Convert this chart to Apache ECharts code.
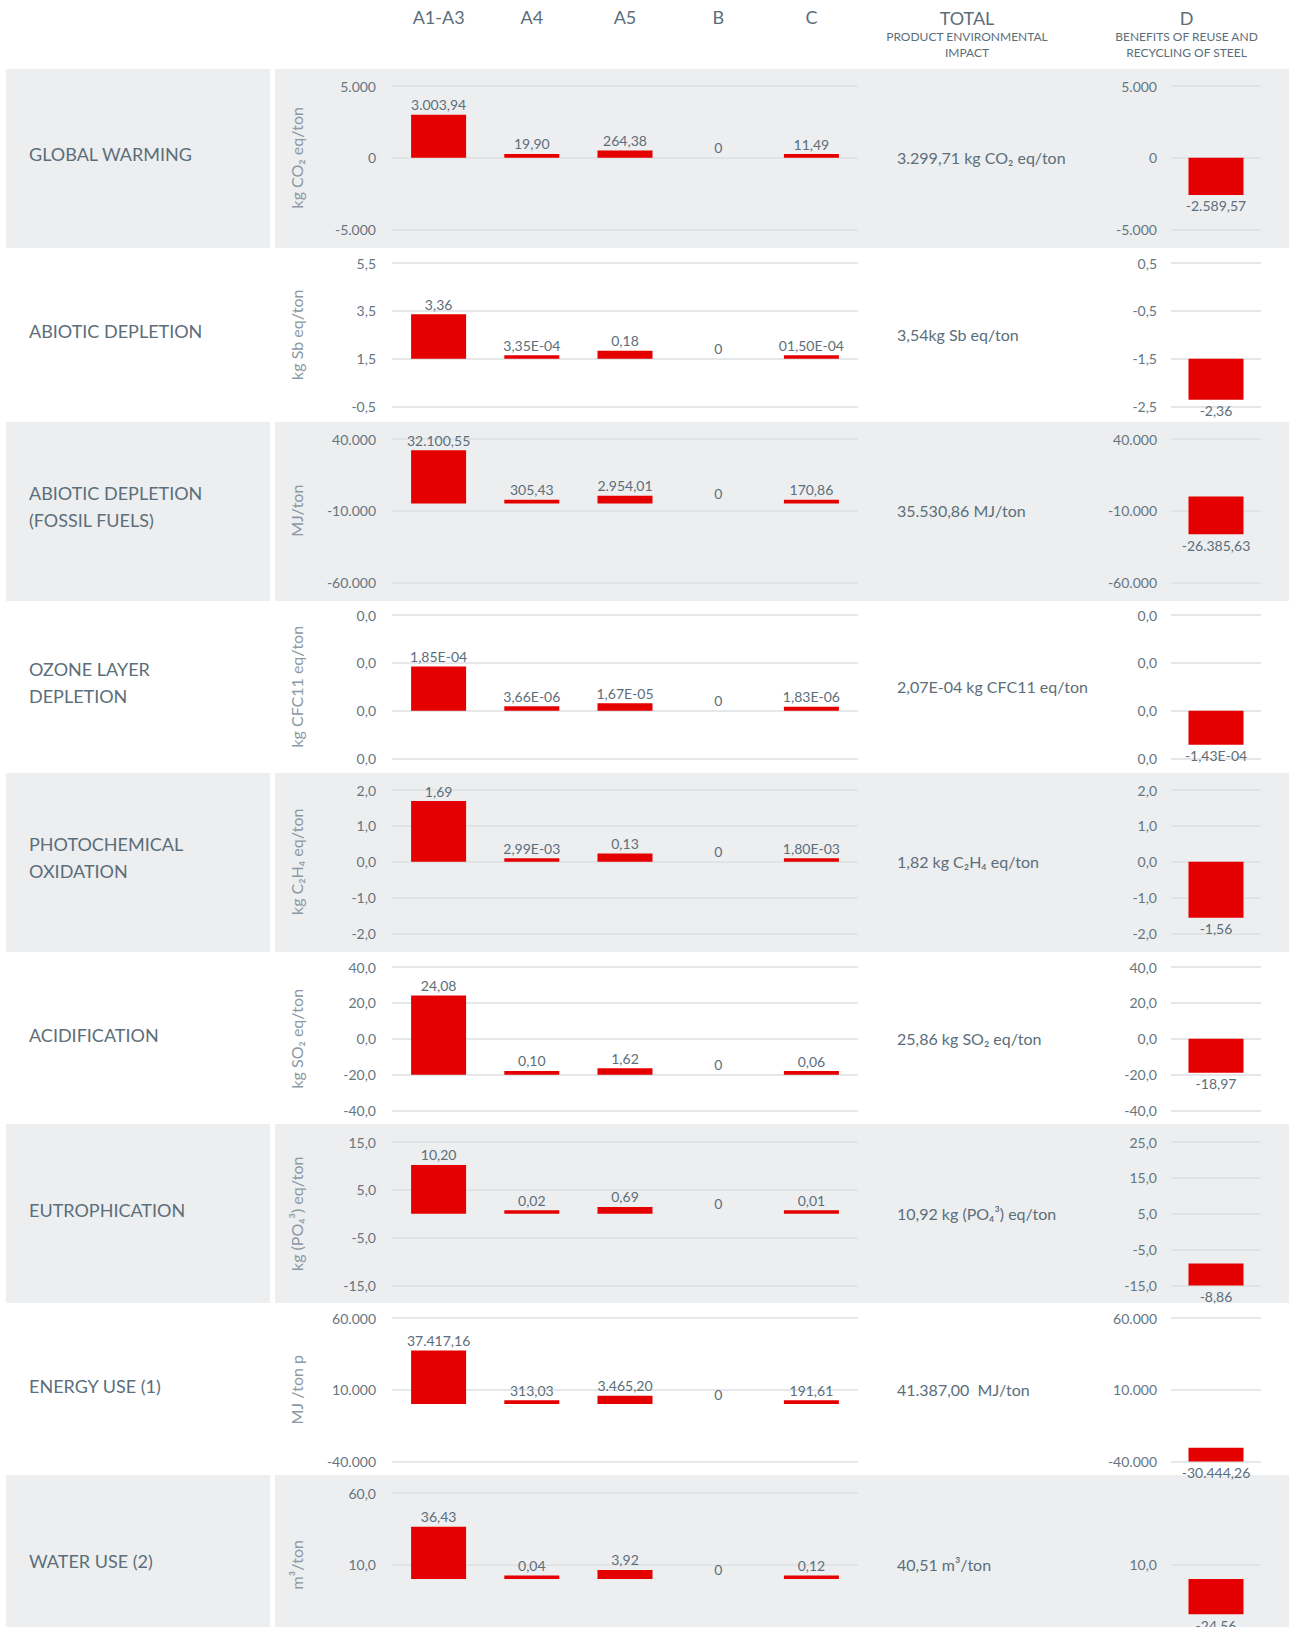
<!DOCTYPE html>
<html><head><meta charset="utf-8">
<script src="https://cdn.jsdelivr.net/npm/echarts@6/dist/echarts.min.js"></script>
<style>html,body{margin:0;padding:0;background:#fff}#c{width:1289px;height:1627px}</style>
</head><body><div id="c"></div>
<script>
// ---------- DATA ----------
const categories = ['A1-A3', 'A4', 'A5', 'B', 'C'];
const rowNames = ['GLOBAL WARMING', 'ABIOTIC DEPLETION', 'ABIOTIC DEPLETION\n(FOSSIL FUELS)', 'OZONE LAYER\nDEPLETION',
  'PHOTOCHEMICAL\nOXIDATION', 'ACIDIFICATION', 'EUTROPHICATION', 'ENERGY USE (1)', 'WATER USE (2)'];
const units = ['kg CO₂ eq/ton', 'kg Sb eq/ton', 'MJ/ton', 'kg CFC11 eq/ton', 'kg C₂H₄ eq/ton', 'kg SO₂ eq/ton',
  'kg (PO₄³) eq/ton', 'MJ /ton p', 'm³/ton'];
const totals = ['3.299,71 kg CO₂ eq/ton', '3,54kg Sb eq/ton', '35.530,86 MJ/ton', '2,07E-04 kg CFC11 eq/ton',
  '1,82 kg C₂H₄ eq/ton', '25,86 kg SO₂ eq/ton', '10,92 kg (PO₄³) eq/ton', '41.387,00  MJ/ton', '40,51 m³/ton'];

const valA1A3 = [3003.94, 3.36, 32100.55, 1.85e-4, 1.69, 24.08, 10.20, 37417.16, 36.43];
const valA4   = [19.90, 3.35e-4, 305.43, 3.66e-6, 2.99e-3, 0.10, 0.02, 313.03, 0.04];
const valA5   = [264.38, 0.18, 2954.01, 1.67e-5, 0.13, 1.62, 0.69, 3465.20, 3.92];
const valB    = [0, 0, 0, 0, 0, 0, 0, 0, 0];
const valC    = [11.49, 1.50e-4, 170.86, 1.83e-6, 1.80e-3, 0.06, 0.01, 191.61, 0.12];
const valD    = [-2589.57, -2.36, -26385.63, -1.43e-4, -1.56, -18.97, -8.86, -30444.26, -24.56];

// value labels as printed
const lblA1A3 = ['3.003,94', '3,36', '32.100,55', '1,85E-04', '1,69', '24,08', '10,20', '37.417,16', '36,43'];
const lblA4   = ['19,90', '3,35E-04', '305,43', '3,66E-06', '2,99E-03', '0,10', '0,02', '313,03', '0,04'];
const lblA5   = ['264,38', '0,18', '2.954,01', '1,67E-05', '0,13', '1,62', '0,69', '3.465,20', '3,92'];
const lblB    = ['0', '0', '0', '0', '0', '0', '0', '0', '0'];
const lblC    = ['11,49', '01,50E-04', '170,86', '1,83E-06', '1,80E-03', '0,06', '0,01', '191,61', '0,12'];
const lblD    = ['-2.589,57', '-2,36', '-26.385,63', '-1,43E-04', '-1,56', '-18,97', '-8,86', '-30.444,26', '-24,56'];

// axis ticks (top -> bottom)
const mainTicks = [
  [5000, 0, -5000], [5.5, 3.5, 1.5, -0.5], [40000, -10000, -60000], [4e-4, 2e-4, 0, -2e-4],
  [2, 1, 0, -1, -2], [40, 20, 0, -20, -40], [15, 5, -5, -15], [60000, 10000, -40000], [60, 10, -40]
];
const dTicks = [
  [5000, 0, -5000], [0.5, -0.5, -1.5, -2.5], [40000, -10000, -60000], [4e-4, 2e-4, 0, -2e-4],
  [2, 1, 0, -1, -2], [40, 20, 0, -20, -40], [25, 15, 5, -5, -15], [60000, 10000, -40000], [10, -40]
];
const tickDecimals = [0, 1, 0, 1, 1, 1, 1, 0, 1];
// value where the category axis crosses (bars start there)
const mainCross = [0, 1.5, -5000, 0, 0, -20, 0, 0, 0];
const dCross    = [0, -1.5, 0, 0, 0, 0, -15, -40000, 0];

// ---------- LAYOUT / STYLE ----------
const RED = '#e40000', TXT = '#5b6e7a', TICK = '#66757f', NAMEC = '#8b99a3', GRIDC = '#dcdfe2', BAND = '#edeef0';
const FONT = 'Lato';
const gridTop = [86, 263, 439, 615, 790, 967, 1142, 1318, 1493];
const GRID_H = 143.5;
const dGridSpan = [1, 1, 1, 1, 1, 1, 1, 1, 0.5];
const cropped = [false, false, false, false, false, false, false, false, true]; // last row runs past the page edge
const MAIN_LEFT = 392, MAIN_W = 466, D_LEFT = 1171, D_W = 90;
const BAR_W = 55, MIN_H = 3.5, STUB_FRAC = 0.05;
const bands = [[69, 248], [422, 601], [773, 952], [1124, 1303], [1475, 1640]];

function fmtNum(v, dec) {
  const s = Math.abs(v).toFixed(dec);
  const neg = v < 0 && parseFloat(s) !== 0;
  let parts = s.split('.');
  let ip = parts[0].replace(/\B(?=(\d{3})+(?!\d))/g, '.');
  return (neg ? '-' : '') + ip + (parts[1] ? ',' + parts[1] : '');
}

function makeY(gi, ticks, dec, name, hideMin) {
  const y = {
    gridIndex: gi, type: 'value', min: ticks[ticks.length - 1], max: ticks[0], interval: ticks[0] - ticks[1],
    axisLine: { show: false }, axisTick: { show: false },
    axisLabel: { margin: name ? 16 : 14, color: TICK, fontSize: 14, fontFamily: FONT, showMinLabel: !hideMin,
      formatter: v => fmtNum(v, dec) },
    splitLine: { lineStyle: { color: GRIDC, width: 1.5 } }
  };
  if (name) Object.assign(y, {
    name: name, nameLocation: 'middle', nameGap: 88,
    nameTextStyle: { color: NAMEC, fontSize: 16, fontFamily: FONT }
  });
  return y;
}

function makeSeries(gi, vals, lbls, cross, ticks, below) {
  const span = ticks[0] - ticks[ticks.length - 1];
  return {
    type: 'custom', xAxisIndex: gi, yAxisIndex: gi,
    data: vals.map((v, i) => [i, v]),
    encode: { x: 0, y: 1 },
    renderItem: function (params, api) {
      const i = params.dataIndex, v = vals[i];
      const p0 = api.coord([i, 0]);
      const xc = p0[0], y0 = p0[1];
      const yb = api.coord([i, cross])[1];
      const yv = api.coord([i, v])[1];
      let top, h;
      if (v === 0) { top = yb; h = 0; }
      else if (Math.abs(v) < STUB_FRAC * span) { h = MIN_H + Math.abs(yv - y0); top = v > 0 ? yb - h : yb; }
      else { top = Math.min(yb, yv); h = Math.abs(yv - yb); }
      return {
        type: 'rect',
        shape: { x: xc - BAR_W / 2, y: top, width: BAR_W, height: h },
        style: { fill: RED },
        textContent: { style: { text: lbls[i], fill: TXT, fontSize: 14, fontFamily: FONT } },
        textConfig: { position: below ? 'bottom' : 'top', distance: below ? 4 : 3 }
      };
    }
  };
}

const grids = [], xAxes = [], yAxes = [], series = [];
rowNames.forEach((name, r) => {
  const mainVals = [valA1A3[r], valA4[r], valA5[r], valB[r], valC[r]];
  const mainLbls = [lblA1A3[r], lblA4[r], lblA5[r], lblB[r], lblC[r]];
  const gi = grids.length;
  grids.push({ left: MAIN_LEFT, top: gridTop[r], width: MAIN_W, height: GRID_H, outerBoundsMode: 'none', containLabel: false });
  xAxes.push({
    gridIndex: gi, type: 'category', data: categories, show: r === 0, position: 'top',
    axisLine: { show: false }, axisTick: { show: false },
    axisLabel: { margin: 60, color: TXT, fontSize: 18, fontFamily: FONT }
  });
  yAxes.push(makeY(gi, mainTicks[r], tickDecimals[r], units[r], cropped[r]));
  series.push(makeSeries(gi, mainVals, mainLbls, mainCross[r], mainTicks[r], false));

  const gd = grids.length;
  const dh = GRID_H * dGridSpan[r];
  grids.push({ left: D_LEFT, top: gridTop[r] + GRID_H - dh, width: D_W, height: dh, outerBoundsMode: 'none', containLabel: false });
  xAxes.push({ gridIndex: gd, type: 'category', data: ['D'], show: false });
  yAxes.push(makeY(gd, dTicks[r], tickDecimals[r], null, cropped[r]));
  series.push(makeSeries(gd, [valD[r]], [lblD[r]], dCross[r], dTicks[r], true));
});

const graphics = [];
bands.forEach(b => {
  graphics.push({ type: 'rect', z: -100, silent: true, shape: { x: 6, y: b[0], width: 264, height: b[1] - b[0] }, style: { fill: BAND } });
  graphics.push({ type: 'rect', z: -100, silent: true, shape: { x: 275, y: b[0], width: 1014, height: b[1] - b[0] }, style: { fill: BAND } });
});
rowNames.forEach((name, r) => {
  const mid = gridTop[r] + GRID_H / 2;
  graphics.push({ type: 'text', x: 29, y: mid - 4, style: { text: name, fill: TXT, fontSize: 18, fontFamily: FONT, lineHeight: 27, verticalAlign: 'middle', align: 'left' } });
  graphics.push({ type: 'text', x: 897, y: mid, style: { text: totals[r], fill: TXT, fontSize: 16, fontFamily: FONT, verticalAlign: 'middle', align: 'left' } });
});
graphics.push({ type: 'text', x: 967, y: 17.5, style: { text: 'TOTAL', fill: TXT, fontSize: 18, fontFamily: FONT, align: 'center', verticalAlign: 'middle' } });
graphics.push({ type: 'text', x: 967, y: 44.5, style: { text: 'PRODUCT ENVIRONMENTAL\nIMPACT', fill: TXT, fontSize: 12, lineHeight: 16.7, fontFamily: FONT, align: 'center', verticalAlign: 'middle' } });
graphics.push({ type: 'text', x: 1186.5, y: 17.5, style: { text: 'D', fill: TXT, fontSize: 18, fontFamily: FONT, align: 'center', verticalAlign: 'middle' } });
graphics.push({ type: 'text', x: 1186.5, y: 44.5, style: { text: 'BENEFITS OF REUSE AND\nRECYCLING OF STEEL', fill: TXT, fontSize: 12, lineHeight: 16.7, fontFamily: FONT, align: 'center', verticalAlign: 'middle' } });

const chart = echarts.init(document.getElementById('c'), null, { renderer: 'svg', width: 1289, height: 1627 });
chart.setOption({
  animation: false,
  backgroundColor: '#ffffff',
  textStyle: { fontFamily: FONT },
  grid: grids, xAxis: xAxes, yAxis: yAxes, series: series,
  graphic: { elements: graphics }
});
</script></body></html>
